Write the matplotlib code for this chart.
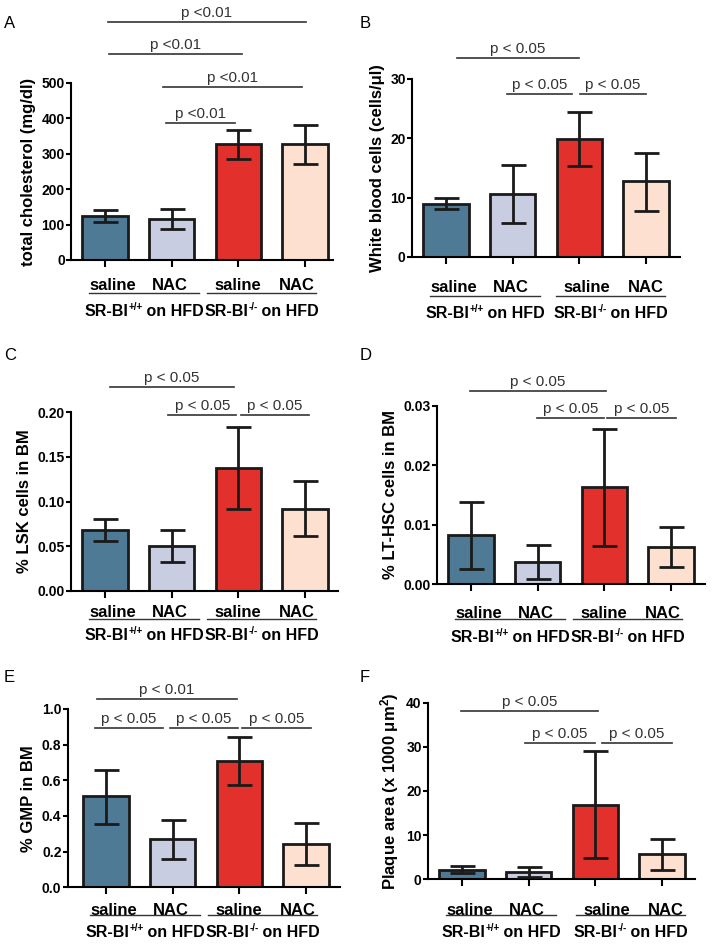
import numpy as np
import matplotlib
matplotlib.use("Agg")
import matplotlib.pyplot as plt
from matplotlib.transforms import blended_transform_factory, offset_copy

plt.rcParams['font.family'] = ['Liberation Sans', 'DejaVu Sans']
plt.rcParams['mathtext.default'] = 'regular'

colors = ['#4f7a96', '#c9cde2', '#e2312c', '#fde0d0']
treat = ['saline', 'NAC', 'saline', 'NAC']
groups = [('SR-BI', '+/+', ' on HFD'), ('SR-BI', '-/-', ' on HFD')]

# values (mean, lower and upper end of the error bar)
chol = [125, 115, 327, 328]
chol_lo = [108, 87, 285, 272]
chol_hi = [142, 143, 367, 382]

wbc = [9.0, 10.6, 19.9, 12.8]
wbc_lo = [8.1, 5.7, 15.3, 7.8]
wbc_hi = [9.9, 15.5, 24.4, 17.6]

lsk = [0.068, 0.050, 0.138, 0.092]
lsk_lo = [0.056, 0.032, 0.092, 0.061]
lsk_hi = [0.080, 0.068, 0.183, 0.123]

lthsc = [0.0082, 0.0037, 0.0163, 0.0062]
lthsc_lo = [0.0026, 0.0008, 0.0064, 0.0028]
lthsc_hi = [0.0138, 0.0066, 0.0261, 0.0096]

gmp = [0.51, 0.27, 0.71, 0.245]
gmp_lo = [0.355, 0.16, 0.575, 0.125]
gmp_hi = [0.66, 0.375, 0.845, 0.36]

plaque = [2.2, 1.7, 16.9, 5.7]
plaque_lo = [1.4, 0.6, 4.8, 2.2]
plaque_hi = [3.0, 2.8, 29.0, 9.2]

# significance brackets: (y, x1, x2, text)
sig_a = [(388, 0.91, 1.95, 'p <0.01'), (488, 0.87, 2.95, 'p <0.01'),
         (581, 0.06, 2.05, 'p <0.01'), (671, 0.04, 3.01, 'p <0.01')]
sig_b = [(27.4, 0.91, 1.89, 'p < 0.05'), (27.4, 2.01, 3.0, 'p < 0.05'),
         (33.6, 0.16, 2.0, 'p < 0.05')]
sig_c = [(0.197, 0.95, 1.97, 'p < 0.05'), (0.197, 2.04, 3.06, 'p < 0.05'),
         (0.2285, 0.07, 1.94, 'p < 0.05')]
sig_d = [(0.0279, 0.99, 1.99, 'p < 0.05'), (0.0279, 2.04, 3.07, 'p < 0.05'),
         (0.0325, -0.01, 2.02, 'p < 0.05')]
sig_e = [(0.892, -0.16, 0.85, 'p < 0.05'), (0.892, 0.96, 1.98, 'p < 0.05'),
         (0.892, 2.04, 3.07, 'p < 0.05'), (1.056, -0.14, 1.96, 'p < 0.01')]
sig_f = [(30.8, 0.94, 1.99, 'p < 0.05'), (30.8, 2.1, 3.15, 'p < 0.05'),
         (38.1, -0.01, 2.04, 'p < 0.05')]

W, H = 714, 944
fig = plt.figure(figsize=(W / 100, H / 100), dpi=100)
renderer = fig.canvas.get_renderer()
step = 66.67  # px between bar centres


def group_label(ax, tr, xc, y, parts, size=11.5):
    base, sup, rest = parts
    kw = dict(transform=tr, ha='left', va='center', fontweight='bold')
    t1 = ax.text(xc, y, base, fontsize=size, **kw)
    t2 = ax.text(xc, y, sup, fontsize=size * 0.62, **kw)
    t3 = ax.text(xc, y, rest, fontsize=size, **kw)
    w1 = t1.get_window_extent(renderer).width
    w2 = t2.get_window_extent(renderer).width
    w3 = t3.get_window_extent(renderer).width
    x0 = -(w1 + w2 + w3) / 2
    t1.set_transform(offset_copy(tr, fig, x=x0, y=0, units='dots'))
    t2.set_transform(offset_copy(tr, fig, x=x0 + w1 + 0.5, y=4.5, units='dots'))
    t3.set_transform(offset_copy(tr, fig, x=x0 + w1 + w2, y=0, units='dots'))


def panel(letter, letter_xy, box, c0, vals, lo, hi, ylim, yticks, fmt,
          ylabel, sigs, offs, shift2):
    L, R, y0, ytop = box
    ax = fig.add_axes([L / W, 1 - y0 / H, (R - L) / W, (y0 - ytop) / H])
    x = np.arange(4)
    vals = np.array(vals)
    yerr = [vals - np.array(lo), np.array(hi) - vals]
    ax.bar(x, vals, width=0.68, color=colors, edgecolor='#1a1a1a',
           linewidth=2, zorder=2)
    ax.errorbar(x, vals, yerr=yerr, fmt='none', ecolor='#1a1a1a',
                elinewidth=2, capsize=9, capthick=2, zorder=3)
    ax.set_xlim((L - c0) / step, (R - c0) / step)
    ax.set_ylim(*ylim)
    ax.set_yticks(yticks)
    ax.set_yticklabels([fmt.format(t) for t in yticks],
                       fontsize=10, fontweight='bold')
    ax.set_xticks(x)
    ax.set_xticklabels([])
    ax.tick_params(axis='x', length=5, width=1.5, direction='out')
    ax.tick_params(axis='y', length=3.5, width=1.5, pad=1)
    for s in ['top', 'right']:
        ax.spines[s].set_visible(False)
    for s in ['left', 'bottom']:
        ax.spines[s].set_linewidth(1.5)
    ax.set_ylabel(ylabel, fontsize=12, fontweight='bold', labelpad=4)

    for yy, x1, x2, txt in sigs:
        ax.plot([x1, x2], [yy, yy], color='#333333', lw=1.2,
                clip_on=False, zorder=4)
        ax.annotate(txt, ((x1 + x2) / 2, yy), xytext=(0, 1.5),
                    textcoords='offset points', ha='center', va='bottom',
                    fontsize=11, color='#333333', annotation_clip=False)

    hpx = y0 - ytop
    lab_dy, line_dy, grp_dy = [o / hpx for o in offs]
    tr = blended_transform_factory(ax.transData, ax.transAxes)
    lab_x = [0.12, 0.97, 2.0 + shift2, 2.88 + shift2]
    for xi, t in zip(lab_x, treat):
        ax.text(xi, lab_dy, t, transform=tr, ha='center', va='center',
                fontsize=12, fontweight='bold')
    spans = [(-0.24, 1.41), (1.53 + shift2, 3.17 + shift2)]
    for (a, b), g in zip(spans, groups):
        ax.plot([a, b], [line_dy, line_dy], transform=tr, color='#333333',
                lw=1.0, clip_on=False)
        group_label(ax, tr, (a + b) / 2, grp_dy, g)

    fig.text(letter_xy[0] / W, 1 - letter_xy[1] / H, letter, fontsize=12,
             ha='left', va='center')
    return ax


panel('A', (4, 23), (71, 333, 260, 83), 105, chol, chol_lo, chol_hi,
      (0, 500), [0, 100, 200, 300, 400, 500], '{:.0f}',
      'total cholesterol (mg/dl)', sig_a, (-26, -33, -52), 0.0)
panel('B', (360, 23), (412, 680, 257, 79), 446, wbc, wbc_lo, wbc_hi,
      (0, 30), [0, 10, 20, 30], '{:.0f}',
      'White blood cells (cells/\u03bcl)', sig_b, (-31, -39, -56), 0.12)
panel('C', (4, 355), (71, 338, 590.7, 412.3), 105, lsk, lsk_lo, lsk_hi,
      (0, 0.2), [0, 0.05, 0.10, 0.15, 0.20], '{:.2f}',
      '% LSK cells in BM', sig_c, (-22, -28, -45), 0.0)
panel('D', (360, 355), (437, 705, 584, 405.7), 471, lthsc, lthsc_lo,
      lthsc_hi, (0, 0.03), [0, 0.01, 0.02, 0.03], '{:.2f}',
      '% LT-HSC cells in BM', sig_d, (-29, -35, -53), 0.0)
panel('E', (4, 677), (67.7, 340, 887.3, 709), 106, gmp, gmp_lo, gmp_hi,
      (0, 1.0), [0, 0.2, 0.4, 0.6, 0.8, 1.0], '{:.1f}',
      '% GMP in BM', sig_e, (-23, -28, -45), 0.0)
panel('F', (360, 677), (428, 695, 879.3, 702.7), 462, plaque, plaque_lo,
      plaque_hi, (0, 40), [0, 10, 20, 30, 40], '{:.0f}',
      'Plaque area (x 1000 \u03bcm$^2$)', sig_f, (-31, -36, -53), 0.18)

fig.savefig('out.png', dpi=100)
